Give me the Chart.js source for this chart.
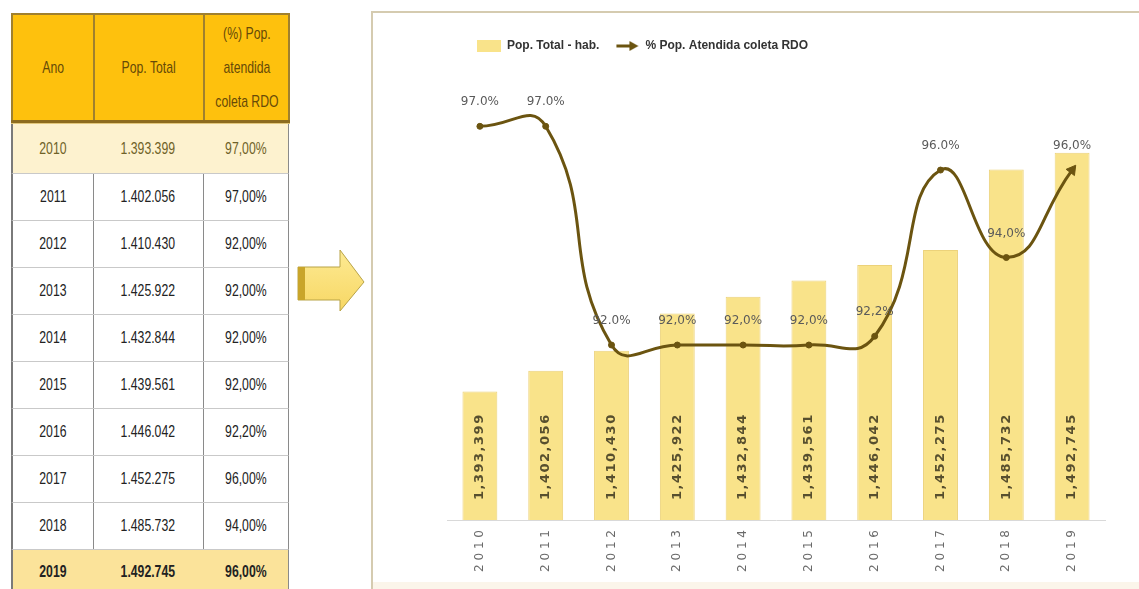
<!DOCTYPE html>
<html><head><meta charset="utf-8">
<script src="https://cdn.jsdelivr.net/npm/chart.js@4.4.1/dist/chart.umd.min.js"></script>
<style>
html,body{margin:0;padding:0;background:#fff;width:1139px;height:589px;overflow:hidden;position:relative;}
body{font-family:"Liberation Sans",Arial,sans-serif;}
#table{position:absolute;left:11px;top:13px;width:277px;height:580px;}
.hc{position:absolute;top:0;height:110px;background:#fec10d;border:2px solid #a0802e;box-sizing:border-box;display:flex;align-items:center;justify-content:center;text-align:center;color:#664a08;font-size:17px;line-height:34px;}
.bc{position:absolute;box-sizing:border-box;border-right:1px solid #8a8a8a;border-bottom:1px solid #c9c9c9;display:flex;align-items:center;justify-content:center;font-size:17px;color:#222;}
.sq{display:inline-block;transform:scaleX(0.72);transform-origin:center;white-space:nowrap;}
#box{position:absolute;left:371px;top:11px;width:800px;height:600px;border:2px solid #d5cbb0;box-sizing:border-box;background:#fff;}
#strip{position:absolute;left:373px;top:582px;width:766px;height:7px;background:#fbf5ea;}
#c{position:absolute;left:373px;top:13px;}
</style>
</head><body>
<div id="table"></div>
<svg style="position:absolute;left:294px;top:246px" width="76" height="68">
 <defs><linearGradient id="ag" x1="0" y1="0" x2="0" y2="1"><stop offset="0" stop-color="#fdea93"/><stop offset="1" stop-color="#f7d764"/></linearGradient></defs>
 <polygon points="4,21 46,21 46,4 70,36 46,65 46,54 4,54" fill="url(#ag)" stroke="#b8a347" stroke-width="1"/>
 <rect x="4" y="21" width="7" height="33" fill="#c9a52a"/>
</svg>
<div id="box"></div>
<div id="strip"></div>
<canvas id="c" width="766" height="576"></canvas>
<script>
const years = ['2010','2011','2012','2013','2014','2015','2016','2017','2018','2019'];
const popTotal = [1393399,1402056,1410430,1425922,1432844,1439561,1446042,1452275,1485732,1492745];
const pctAtendida = [97.0,97.0,92.0,92.0,92.0,92.0,92.2,96.0,94.0,96.0];
const pctLabels = ['97.0%','97.0%','92.0%','92,0%','92,0%','92,0%','92,2%','96.0%','94,0%','96,0%'];
const headerLabels = [['Ano'],['Pop. Total'],['(%) Pop.','atendida','coleta RDO']];
const BAR_MIN = 1340000, BAR_MAX = 1530480;
const PCT_MIN = 88, PCT_MAX = 98.47;

function group(n, sep){ return String(n).replace(/\B(?=(\d{3})+(?!\d))/g, sep); }

// ---- table ----
const T = document.getElementById('table');
const colX = [0, 82, 192, 277];
headerLabels.forEach((lines,i)=>{
  const d = document.createElement('div');
  d.className='hc';
  d.style.left = (colX[i]) + 'px';
  d.style.width = (colX[i+1]-colX[i]+2) + 'px';
  d.innerHTML = '<span class="sq">' + lines.join('<br>') + '</span>';
  T.appendChild(d);
});
const hl = document.createElement('div');
hl.style.cssText='position:absolute;left:0;top:107px;width:279px;height:3px;background:#8d6c1f;border-bottom:1px solid #e2c77a;';
T.appendChild(hl);
years.forEach((y,r)=>{
  const top = r===0 ? 111 : 161 + (r-1)*47;
  const h = r===0 ? 50 : 47;
  const vals = [y, group(popTotal[r],'.'), pctAtendida[r].toFixed(2).replace('.',',')+'%'];
  vals.forEach((v,c)=>{
    const d = document.createElement('div');
    d.className='bc';
    d.style.left = colX[c]+'px';
    d.style.top = top+'px';
    d.style.width = (colX[c+1]-colX[c]+1)+'px';
    d.style.height = (r===years.length-1 ? 60 : h)+'px';
    if (c===0) d.style.borderLeft='2px solid #7a7a7a';
    if (r===0){ d.style.background='#fdf2cf'; d.style.color='#6f6228'; }
    if (r===years.length-1){ d.style.background='#fbe39a'; d.style.fontWeight='bold'; d.style.alignItems='flex-start'; d.style.paddingTop='12px'; }
    d.innerHTML = '<span class="sq">' + v + '</span>';
    T.appendChild(d);
  });
});

// ---- legend arrow symbol ----
const LINE_COLOR = '#6b5410';
const arrowImg = document.createElement('canvas');
arrowImg.width = 24; arrowImg.height = 12;
(function(){
  const g = arrowImg.getContext('2d');
  g.strokeStyle = LINE_COLOR; g.fillStyle = LINE_COLOR; g.lineWidth = 3;
  g.beginPath(); g.moveTo(1,6); g.lineTo(16,6); g.stroke();
  g.beginPath(); g.moveTo(14,1); g.lineTo(23,6); g.lineTo(14,11); g.closePath(); g.fill();
})();

function spacedText(ctx, text, x, y, spacing){
  let cx = x;
  for (const ch of text){ ctx.fillText(ch, cx, y); cx += ctx.measureText(ch).width + spacing; }
}

const labelPlugin = {
  id:'valueLabels',
  afterLayout(chart){ chart.legend.left += 14; chart.legend.right += 14; },
  afterDatasetsDraw(chart){
    const ctx = chart.ctx;
    const bm = chart.getDatasetMeta(0);
    const baseY = chart.scales.yBar.getPixelForValue(BAR_MIN);
    ctx.save();
    ctx.font = 'bold 13px "DejaVu Sans"';
    ctx.fillStyle = '#574f2e';
    ctx.textAlign = 'left'; ctx.textBaseline = 'middle';
    bm.data.forEach((el,i)=>{
      ctx.save(); ctx.translate(el.x, baseY - 20); ctx.rotate(-Math.PI/2);
      spacedText(ctx, group(popTotal[i], ','), 0, 0, 1.5);
      ctx.restore();
    });
    const lm = chart.getDatasetMeta(1);
    ctx.font = '12px "DejaVu Sans"'; ctx.fillStyle = '#5a5a5a'; ctx.textAlign = 'center';
    lm.data.forEach((el,i)=> ctx.fillText(pctLabels[i], el.x, el.y - 24));
    ctx.restore();
  }
};

const last = pctAtendida.length - 1;
new Chart(document.getElementById('c'), {
  data: {
    labels: years,
    datasets: [
      { type:'bar', label:'Pop. Total - hab.', data: popTotal, yAxisID:'yBar',
        backgroundColor:'#f9e38a', borderColor:'#ecd27a', borderWidth:1,
        barPercentage:0.53, categoryPercentage:1, order:1 },
      { type:'line', label:'% Pop. Atendida coleta RDO', data: pctAtendida, yAxisID:'yPct',
        borderColor:LINE_COLOR, borderWidth:3, tension:0.5, fill:false,
        pointRadius: c => c.dataIndex===last ? 6 : 3,
        pointStyle: c => c.dataIndex===last ? 'triangle' : 'circle',
        pointRotation: c => c.dataIndex===last ? 37 : 0,
        pointBackgroundColor:LINE_COLOR, pointBorderColor:LINE_COLOR, pointBorderWidth:1,
        order:0 }
    ]
  },
  options: {
    responsive:false, devicePixelRatio:1, animation:false,
    layout:{ padding:{ left:74, right:34, top:11, bottom:0 } },
    plugins:{
      tooltip:{ enabled:false },
      legend:{
        position:'top', align:'start',
        labels:{
          usePointStyle:true, pointStyleWidth:24, boxHeight:12, padding:16,
          color:'#333', font:{ family:'"Liberation Sans"', size:12, weight:'bold' },
          sort:(a,b)=>a.datasetIndex-b.datasetIndex,
          generateLabels(chart){
            const items = Chart.defaults.plugins.legend.labels.generateLabels(chart);
            items.forEach(it=>{
              if (chart.data.datasets[it.datasetIndex].type==='line') { it.pointStyle = arrowImg; }
              else { it.pointStyle='rect'; it.fillStyle='#f9e38a'; it.strokeStyle='#f9e38a'; it.lineWidth=0; }
            });
            return items;
          }
        }
      }
    },
    scales:{
      x:{ offset:true, grid:{ display:false, drawTicks:false },
          border:{ display:true, color:'#d9d9d9', width:1 },
          ticks:{ minRotation:90, maxRotation:90, padding:10, color:'#6a6a6a',
                  font:{ family:'"DejaVu Sans"', size:12 },
                  callback:(v,i)=>years[i].split('').join(' ') },
          afterFit(s){ s.height = 69; } },
      yBar:{ display:false, position:'left', min:BAR_MIN, max:BAR_MAX },
      yPct:{ display:false, position:'right', min:PCT_MIN, max:PCT_MAX }
    }
  },
  plugins:[labelPlugin]
});
</script>
</body></html>
